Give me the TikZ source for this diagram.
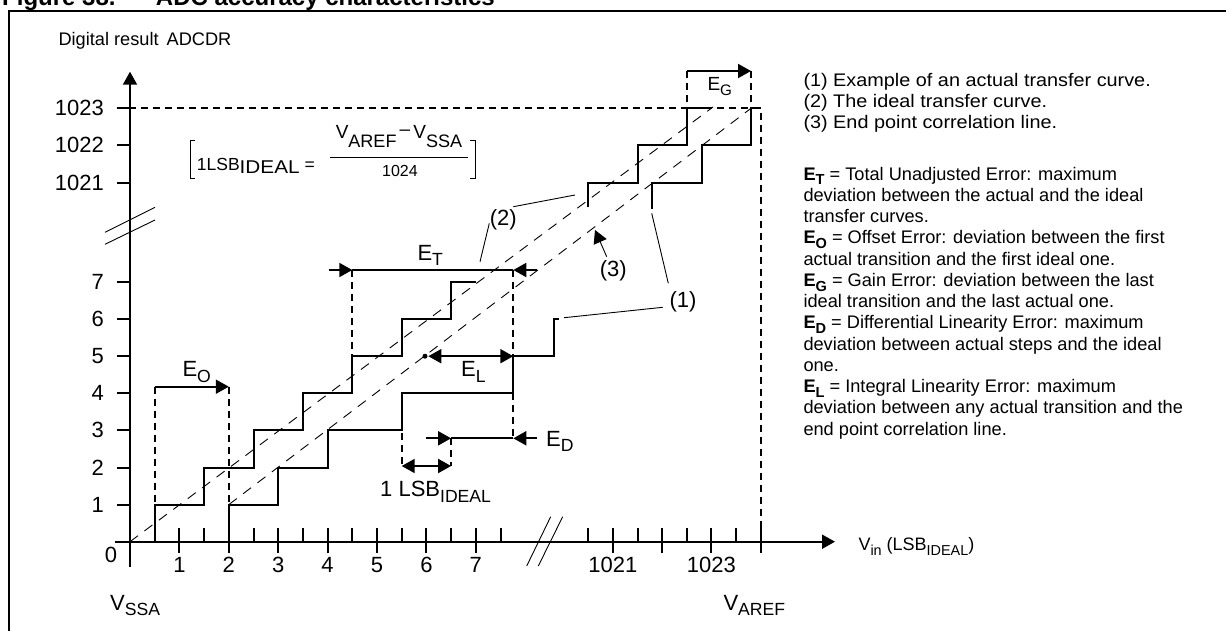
\documentclass[tikz,border=0pt]{standalone}
\usepackage{fontspec}
\setmainfont{Liberation Sans}
\usepackage{graphicx}
\usetikzlibrary{arrows.meta}
\newcommand\lo[1]{\raisebox{-0.27em}{\scalebox{0.8}{#1}}}
\newcommand\wide[1]{\scalebox{1.09}[1]{#1}}
\begin{document}
\begin{tikzpicture}[x=1pt,y=-1pt,
  >={Triangle[length=13pt,width=14pt]},
  ax/.style={line width=2pt},
  stair/.style={line width=2pt,line join=miter},
  dsh/.style={line width=2pt,dash pattern=on 7pt off 5pt},
  diag/.style={line width=0.9pt,dash pattern=on 10pt off 8pt},
  lead/.style={line width=0.9pt},
  tk/.style={inner sep=0pt,font=\fontsize{22}{26}\selectfont},
  lbl/.style={inner sep=0pt,anchor=base west,font=\fontsize{22}{26}\selectfont},
  leg/.style={inner sep=0pt,anchor=base west,font=\fontsize{18.2}{22}\selectfont},
]
\useasboundingbox (0,0) rectangle (1226,630);
\clip (0,0) rectangle (1226,630);
% title (cut at the top edge)
\node[inner sep=0pt,anchor=base west,font=\fontsize{24}{28}\selectfont\bfseries] (t1) at (2,5) {Figure 38.};
\node[inner sep=0pt,anchor=base east,font=\fontsize{24}{28}\selectfont\bfseries] (t2) at (495,5) {ADC accuracy characteristics};
% frame
\coordinate (fa) at (9,640);
\coordinate (fb) at (9,11);
\coordinate (fc) at (1240,11);
\draw[line width=2pt] (fa) -- (fb) -- (fc);
% axes
\coordinate (O) at (130,541.7);
\coordinate (ybot) at (130,566.7);
\coordinate (ytop) at (130,71.7);
\coordinate (xl) at (115,541.7);
\coordinate (xr) at (835,541.7);
\draw[ax,->] (ybot) -- (ytop);
\draw[ax,->] (xl) -- (xr);
\foreach \yy in {504.6,467.5,430.4,393.3,356.2,319.1,282,182.5,145.4,108.3}
  \draw[ax] (116.7,\yy) -- (130,\yy);
\foreach \xx in {179.4,228.8,278.2,327.6,377,426.4,475.8,612.9,662.1,711.3,760.5}
  \draw[ax] (\xx,528.3) -- (\xx,553.3);
\foreach \xx in {154.7,204.1,253.5,302.9,352.3,401.7,451.1,500.5,588.3,637.5,686.7,735.9}
  \draw[ax] (\xx,528.3) -- (\xx,541.7);
% axis breaks
\draw[lead] (105,232.3) -- (155,207.3);
\draw[lead] (105,244.3) -- (155,220);
\draw[lead] (526.7,566) -- (550.7,516.7);
\draw[lead] (538.3,566) -- (562.7,516.7);
% y labels
\foreach \yy/\t in {504.6/1,467.5/2,430.4/3,393.3/4,356.2/5,319.1/6,282/7,182.5/1021,145.4/1022,108.3/1023}
  \node[tk,anchor=east] at (104,\yy) {\t};
\node[tk] (zero) at (111,555) {0};
% x labels
\foreach \xx/\t in {179.4/1,228.8/2,278.2/3,327.6/4,377/5,426.4/6,475.8/7,612.9/1021,711.3/1023}
  \node[tk] at (\xx,565) {\t};
\node[lbl] (vssa) at (110,610) {V\lo{SSA}};
\node[lbl] (varef) at (723.3,610) {V\lo{AREF}};
\node[inner sep=0pt,anchor=base west,font=\fontsize{18}{22}\selectfont] (vin) at (858.3,550.7) {V\lo{in} (LSB\lo{IDEAL})};
\node[leg] (ylab) at (58.3,45.7) {Digital result\hspace{3pt} ADCDR};
% 1023 level and V_AREF
\coordinate (d1) at (116.7,108.3);
\coordinate (d2) at (760.5,108.3);
\coordinate (d3) at (760.5,541.7);
\draw[dsh] (d1) -- (d2) -- (d3);
% dashed straight lines
\coordinate (a1) at (130,541.7);
\coordinate (a2) at (713,107);
\draw[diag] (a1) -- (a2);
\coordinate (b1) at (228.8,504.6);
\coordinate (b2) at (751,108.3);
\draw[diag] (b1) -- (b2);
% ideal staircase
\draw[stair] (154.7,541.7) -- (154.7,504.6) -- (204.1,504.6) -- (204.1,467.5) -- (253.5,467.5) -- (253.5,430.4) -- (302.9,430.4) -- (302.9,393.3) -- (352.3,393.3) -- (352.3,356.2) -- (401.7,356.2) -- (401.7,319.1) -- (451.1,319.1) -- (451.1,282) -- (475.8,282);
\draw[stair] (588.3,207) -- (588.3,182.5) -- (637.5,182.5) -- (637.5,145.4) -- (686.7,145.4) -- (686.7,108.3) -- (711.3,108.3);
% actual staircase
\draw[stair] (228.8,541.7) -- (228.8,504.6) -- (278.2,504.6) -- (278.2,467.5) -- (327.6,467.5) -- (327.6,430.4) -- (401.7,430.4) -- (401.7,393.3) -- (513.3,393.3) -- (513.3,356.2) -- (554,356.2) -- (554,319.1) -- (558.5,319.1);
\draw[stair] (651.7,208.5) -- (651.7,182.5) -- (701.7,182.5) -- (701.7,145.4) -- (751,145.4) -- (751,108.3) -- (760.5,108.3);
% E_O
\coordinate (eo1) at (154.7,386.7);
\coordinate (eo2) at (228.8,386.7);
\draw[dsh] (eo1) -- (154.7,504.6);
\draw[dsh] (eo2) -- (228.8,504.6);
\draw[ax,->] (eo1) -- (eo2);
\node[lbl] (EO) at (182.3,376.7) {E\lo{O}};
% E_T
\coordinate (et0) at (329.3,270);
\coordinate (et1) at (352.3,270);
\coordinate (et2) at (513.3,270);
\coordinate (et3) at (537.3,270);
\draw[ax,->] (et0) -- (et1);
\draw[ax] (et1) -- (et2);
\draw[ax,->] (et3) -- (et2);
\draw[dsh] (et1) -- (352.3,356.2);
\draw[dsh] (et2) -- (513.3,356.2);
\node[lbl] (ET) at (417.3,260) {E\lo{T}};
% E_L
\coordinate (el0) at (425,356.2);
\coordinate (el1) at (428.3,356.2);
\coordinate (el2) at (513.3,356.2);
\fill (el0) circle (2.5pt);
\draw[ax,<->] (el1) -- (el2);
\node[lbl] (EL) at (461,376.7) {E\lo{L}};
% E_D
\coordinate (ed0) at (426,438.3);
\coordinate (ed1) at (451.1,438.3);
\coordinate (ed2) at (513.3,438.3);
\coordinate (ed3) at (536.7,438.3);
\draw[ax,->] (ed0) -- (ed1);
\draw[ax] (ed1) -- (ed2);
\draw[ax,->] (ed3) -- (ed2);
\draw[dsh] (513.3,393.3) -- (ed2);
\node[lbl] (ED) at (546,446) {E\lo{D}};
% 1 LSB
\coordinate (ls1) at (401.7,466);
\coordinate (ls2) at (451.1,466);
\draw[dsh] (401.7,433) -- (ls1);
\draw[dsh] (ed1) -- (ls2);
\draw[ax,<->] (ls1) -- (ls2);
\node[lbl] (LSB) at (380,496.7) {1 LSB\lo{IDEAL}};
% E_G
\coordinate (eg1) at (686.7,71);
\coordinate (eg2) at (751,71);
\draw[ax,->] (eg1) -- (eg2);
\draw[dsh] (eg1) -- (686.7,108.3);
\draw[dsh] (eg2) -- (751,108.3);
\node[inner sep=0pt,anchor=base west,font=\fontsize{19}{23}\selectfont] (EG) at (707.3,90) {E\lo{G}};
% curve labels
\node[tk] (L2) at (503.3,220) {(2)};
\draw[lead] (513.3,206.7) -- (575,195);
\draw[lead] (489.3,223.3) -- (480,261.7);
\node[tk] (L3) at (613.3,270.5) {(3)};
\draw[lead,->] (606.7,256.7) -- (595,230);
\node[tk] (L1) at (683,301.7) {(1)};
\draw[lead] (668.3,283.3) -- (651.7,213.3);
\draw[lead] (662.7,307.3) -- (564,317.7);
% formula
\draw[lead] (195,140) -- (190,140) -- (190,178.3) -- (195,178.3);
\draw[lead] (470,140) -- (475,140) -- (475,178.3) -- (470,178.3);
\node[inner sep=0pt,anchor=base west,font=\fontsize{17.5}{21}\selectfont] (f1) at (196.7,170.5) {1LSB\raisebox{-2.5pt}{\fontsize{18.5}{22}\selectfont\scalebox{1.12}[1]{IDEAL}}\hspace{5pt}=};
\node[inner sep=0pt,anchor=base,font=\fontsize{19}{23}\selectfont] (f2) at (399,138) {V\raisebox{-0.5em}{\scalebox{0.95}{AREF}}\raisebox{0.15em}{\,–\,}V\raisebox{-0.5em}{\scalebox{0.95}{SSA}}};
\draw[lead] (330,157) -- (468,157);
\node[inner sep=0pt,font=\fontsize{16}{19}\selectfont] (f3) at (400,171.3) {1024};
% legend
\node[leg] at (803.3,86.7) {\wide{(1) Example of an actual transfer curve.}};
\node[leg] at (803.3,107.7) {\wide{(2) The ideal transfer curve.}};
\node[leg] at (803.3,128.7) {\wide{(3) End point correlation line.}};
\node[leg] at (803.3,180) {\textbf{E\lo{T}} = Total Unadjusted Error: maximum};
\node[leg] at (803.3,201.25) {deviation between the actual and the ideal};
\node[leg] at (803.3,222.5) {transfer curves.};
\node[leg] at (803.3,243.75) {\textbf{E\lo{O}} = Offset Error: deviation between the first};
\node[leg] at (803.3,265) {actual transition and the first ideal one.};
\node[leg] at (803.3,286.25) {\textbf{E\lo{G}} = Gain Error: deviation between the last};
\node[leg] at (803.3,307.5) {ideal transition and the last actual one.};
\node[leg] at (803.3,328.75) {\textbf{E\lo{D}} = Differential Linearity Error: maximum};
\node[leg] at (803.3,350) {deviation between actual steps and the ideal};
\node[leg] at (803.3,371.25) {one.};
\node[leg] at (803.3,392.5) {\textbf{E\lo{L}} = Integral Linearity Error: maximum};
\node[leg] at (803.3,413.75) {deviation between any actual transition and the};
\node[leg] at (803.3,435) {end point correlation line.};
\end{tikzpicture}
\end{document}
